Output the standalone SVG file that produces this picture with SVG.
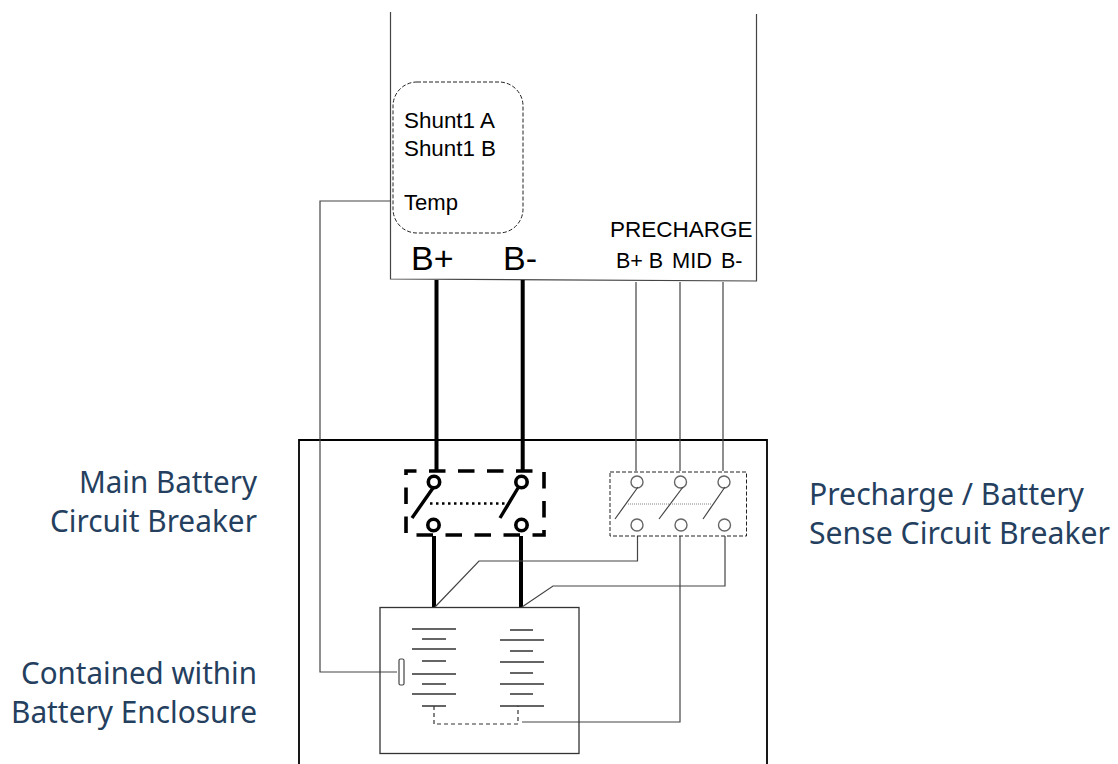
<svg xmlns="http://www.w3.org/2000/svg" width="1118" height="764" viewBox="0 0 1118 764">
<style>
.l{fill:none;stroke:#444;stroke-width:1.2}
.h{fill:none;stroke:#000;stroke-width:4}
.j{fill:none;stroke:#000;stroke-width:3.4}
.c{fill:none;stroke:#333;stroke-width:1.3}
.a{font-family:"Liberation Sans",Arial,sans-serif;fill:#000}
.t{font-family:"Noto Sans","DejaVu Sans",sans-serif;font-size:30px;fill:#253f5f}
.g{fill:#fff;stroke:#666;stroke-width:1.4}
.k{fill:#fff;stroke:#000;stroke-width:3.6}
</style>
<rect width="1118" height="764" fill="#fff"/>
<g id="controller">
<path class="l" d="M390.500 12V279L756.500 281V14"/>
<rect x="393" y="82" width="130" height="151" rx="24" fill="none" stroke="#222" stroke-width="1" stroke-dasharray="4 2"/>
<text class="a" x="404" y="128" font-size="22" textLength="91" lengthAdjust="spacingAndGlyphs">Shunt1 A</text>
<text class="a" x="404" y="156" font-size="22" textLength="92" lengthAdjust="spacingAndGlyphs">Shunt1 B</text>
<text class="a" x="404" y="210" font-size="22" textLength="54" lengthAdjust="spacingAndGlyphs">Temp</text>
<text class="a" x="411" y="270" font-size="34">B+</text>
<text class="a" x="503" y="270" font-size="34">B-</text>
<text class="a" x="610" y="237" font-size="22.500">PRECHARGE</text>
<text class="a" x="616" y="268" font-size="21.500">B+ B</text>
<text class="a" x="672" y="268" font-size="21.500" textLength="40" lengthAdjust="spacingAndGlyphs">MID</text>
<text class="a" x="721" y="268" font-size="21.500">B-</text>
</g>
<g id="enclosure"><path d="M299 764V440H767V764" fill="none" stroke="#000" stroke-width="1.8"/></g>
<g id="connectors">
<path class="h" d="M436.500 280V470M522.700 280V470M434 536V607M521 536V607"/>
<path class="l" d="M636 282V471M680 282V471M723 282V471M637.500 536V561H479L435 607M680 536V722H522M725 536V586H553L522 607"/>
<path class="l" d="M390 201H320V672H397"/>
</g>
<g id="main-breaker">
<rect x="406" y="471" width="138" height="64" fill="none" stroke="#000" stroke-width="3.600" stroke-dasharray="16.500 12.500" stroke-dashoffset="6"/>
<circle class="k" cx="434" cy="482" r="5.700"/><circle class="k" cx="521.500" cy="482" r="5.700"/>
<circle class="k" cx="433.500" cy="525" r="5.700"/><circle class="k" cx="521.500" cy="525" r="5.700"/>
<path class="j" d="M433 488L412 518M518 488L500 518"/>
<path d="M430 503.500H507" fill="none" stroke="#000" stroke-width="2.600" stroke-dasharray="2.500 3.500"/>
</g>
<g id="precharge-breaker">
<rect x="610" y="472" width="136.500" height="64" fill="none" stroke="#222" stroke-width="1" stroke-dasharray="4 2"/>
<circle class="g" cx="637" cy="482" r="6"/><circle class="g" cx="680.500" cy="482" r="6"/><circle class="g" cx="724" cy="482" r="6"/>
<circle class="g" cx="637" cy="525" r="6"/><circle class="g" cx="681" cy="525" r="6"/><circle class="g" cx="724.500" cy="525" r="6"/>
<path class="l" d="M638 487L615 519M683 487L659 519M725 487L703 519"/>
<path d="M628 504H712" fill="none" stroke="#666" stroke-width="0.800" stroke-dasharray="1 1"/>
</g>
<g id="battery">
<rect x="380" y="607.500" width="199" height="146" fill="none" stroke="#333" stroke-width="1.300"/>
<path class="c" d="M412 629H456M422 639H446M412 649H456M422 661H446M412 674H456M422 684H446M412 694H456M422 706H446"/>
<path class="c" d="M510 630H533M500 640H544M510 651H533M500 662H544M510 673H533M500 684H544M510 694H533M500 706H544"/>
<path d="M434 706V724H518V706" fill="none" stroke="#333" stroke-width="1.200" stroke-dasharray="4 3"/>
<rect x="399" y="659" width="5" height="26" rx="1.500" fill="#fff" stroke="#444" stroke-width="1.200"/>
</g>
<g id="labels">
<text class="t" x="79" y="493" textLength="178" lengthAdjust="spacingAndGlyphs">Main Battery</text>
<text class="t" x="50" y="532" textLength="207" lengthAdjust="spacingAndGlyphs">Circuit Breaker</text>
<text class="t" x="809" y="505" textLength="275" lengthAdjust="spacingAndGlyphs">Precharge / Battery</text>
<text class="t" x="809" y="544" textLength="301" lengthAdjust="spacingAndGlyphs">Sense Circuit Breaker</text>
<text class="t" x="21" y="684" textLength="236" lengthAdjust="spacingAndGlyphs">Contained within</text>
<text class="t" x="11" y="723" textLength="246" lengthAdjust="spacingAndGlyphs">Battery Enclosure</text>
</g>
</svg>
